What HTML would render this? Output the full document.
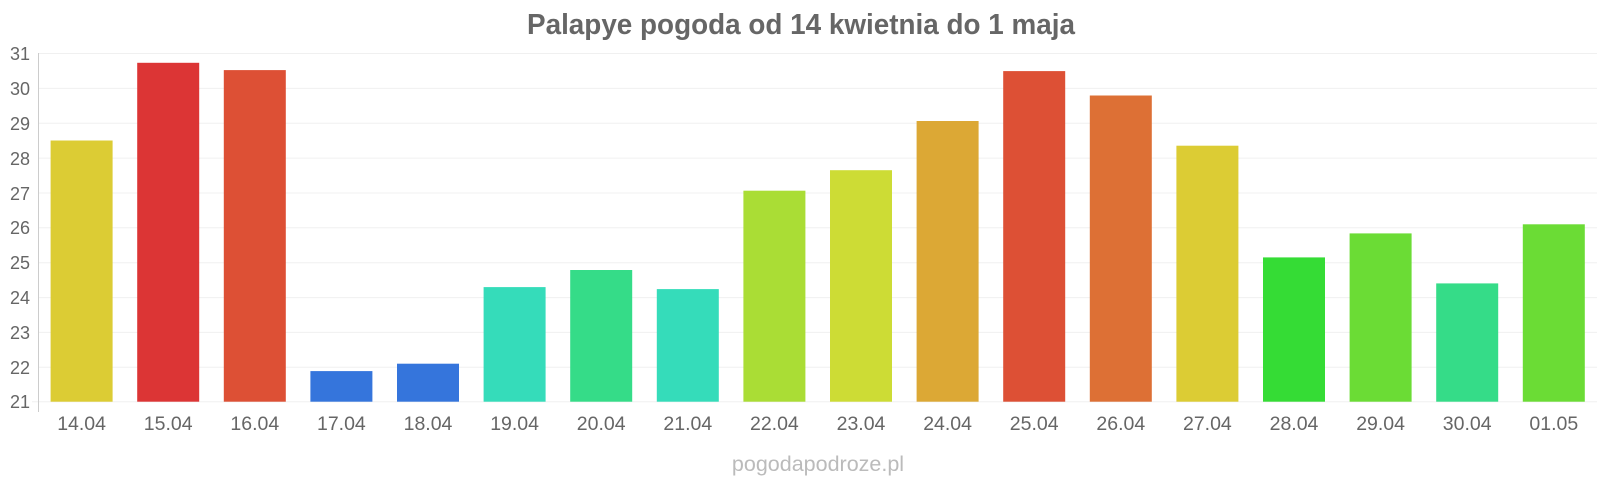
<!DOCTYPE html>
<html><head><meta charset="utf-8"><style>
html,body{margin:0;padding:0;background:#fff;}
svg{display:block;font-family:"Liberation Sans",Arial,sans-serif;}
</style></head><body>
<svg width="1600" height="480" viewBox="0 0 1600 480" xmlns="http://www.w3.org/2000/svg">
<text x="801" y="34" text-anchor="middle" font-size="29" font-weight="bold" fill="#666" textLength="548" lengthAdjust="spacingAndGlyphs">Palapye pogoda od 14 kwietnia do 1 maja</text>
<g stroke="#f0f0f0" stroke-width="1">
<line x1="38" x2="1597" y1="53.5" y2="53.5"/><line x1="38" x2="1597" y1="88.4" y2="88.4"/><line x1="38" x2="1597" y1="123.2" y2="123.2"/><line x1="38" x2="1597" y1="158.1" y2="158.1"/><line x1="38" x2="1597" y1="193" y2="193"/><line x1="38" x2="1597" y1="227.8" y2="227.8"/><line x1="38" x2="1597" y1="262.7" y2="262.7"/><line x1="38" x2="1597" y1="297.6" y2="297.6"/><line x1="38" x2="1597" y1="332.4" y2="332.4"/><line x1="38" x2="1597" y1="367.3" y2="367.3"/><line x1="32" x2="1597" y1="401.7" y2="401.7"/>
</g>
<line x1="38.5" x2="38.5" y1="53" y2="412" stroke="#ccc"/>
<g font-size="18" fill="#666" text-anchor="end">
<text x="30" y="60">31</text><text x="30" y="95">30</text><text x="30" y="130">29</text><text x="30" y="165">28</text><text x="30" y="200">27</text><text x="30" y="234">26</text><text x="30" y="269">25</text><text x="30" y="304">24</text><text x="30" y="339">23</text><text x="30" y="374">22</text><text x="30" y="408">21</text>
</g>
<text x="818" y="471" text-anchor="middle" font-size="21.5" fill="#bbb">pogodapodroze.pl</text>
<g>
<rect x="50.6" y="140.5" width="62" height="261.2" fill="#dccc34"/>
<rect x="137.2" y="62.8" width="62" height="338.9" fill="#dc3535"/>
<rect x="223.8" y="70.1" width="62" height="331.6" fill="#dd5035"/>
<rect x="310.4" y="371.1" width="62" height="30.6" fill="#3575dc"/>
<rect x="397" y="363.7" width="62" height="38" fill="#3575dc"/>
<rect x="483.6" y="287.1" width="62" height="114.6" fill="#35dcba"/>
<rect x="570.2" y="270" width="62" height="131.7" fill="#35dc88"/>
<rect x="656.8" y="289.1" width="62" height="112.6" fill="#35dcba"/>
<rect x="743.4" y="190.7" width="62" height="211" fill="#aadd35"/>
<rect x="830" y="170.2" width="62" height="231.5" fill="#cddc35"/>
<rect x="916.6" y="121" width="62" height="280.7" fill="#dca835"/>
<rect x="1003.2" y="71.1" width="62" height="330.6" fill="#dd5035"/>
<rect x="1089.8" y="95.5" width="62" height="306.2" fill="#dd7035"/>
<rect x="1176.4" y="145.7" width="62" height="256" fill="#dccc34"/>
<rect x="1263" y="257.4" width="62" height="144.3" fill="#35dc35"/>
<rect x="1349.6" y="233.4" width="62" height="168.3" fill="#6bdc35"/>
<rect x="1436.2" y="283.4" width="62" height="118.3" fill="#35dc88"/>
<rect x="1522.8" y="224.3" width="62" height="177.4" fill="#6bdc35"/>
</g>
<g font-size="19.5" fill="#666" text-anchor="middle">
<text x="81.6" y="430">14.04</text><text x="168.2" y="430">15.04</text><text x="254.8" y="430">16.04</text><text x="341.4" y="430">17.04</text><text x="428" y="430">18.04</text><text x="514.6" y="430">19.04</text><text x="601.2" y="430">20.04</text><text x="687.8" y="430">21.04</text><text x="774.4" y="430">22.04</text><text x="861" y="430">23.04</text><text x="947.6" y="430">24.04</text><text x="1034.2" y="430">25.04</text><text x="1120.8" y="430">26.04</text><text x="1207.4" y="430">27.04</text><text x="1294" y="430">28.04</text><text x="1380.6" y="430">29.04</text><text x="1467.2" y="430">30.04</text><text x="1553.8" y="430">01.05</text>
</g>
</svg>
</body></html>
